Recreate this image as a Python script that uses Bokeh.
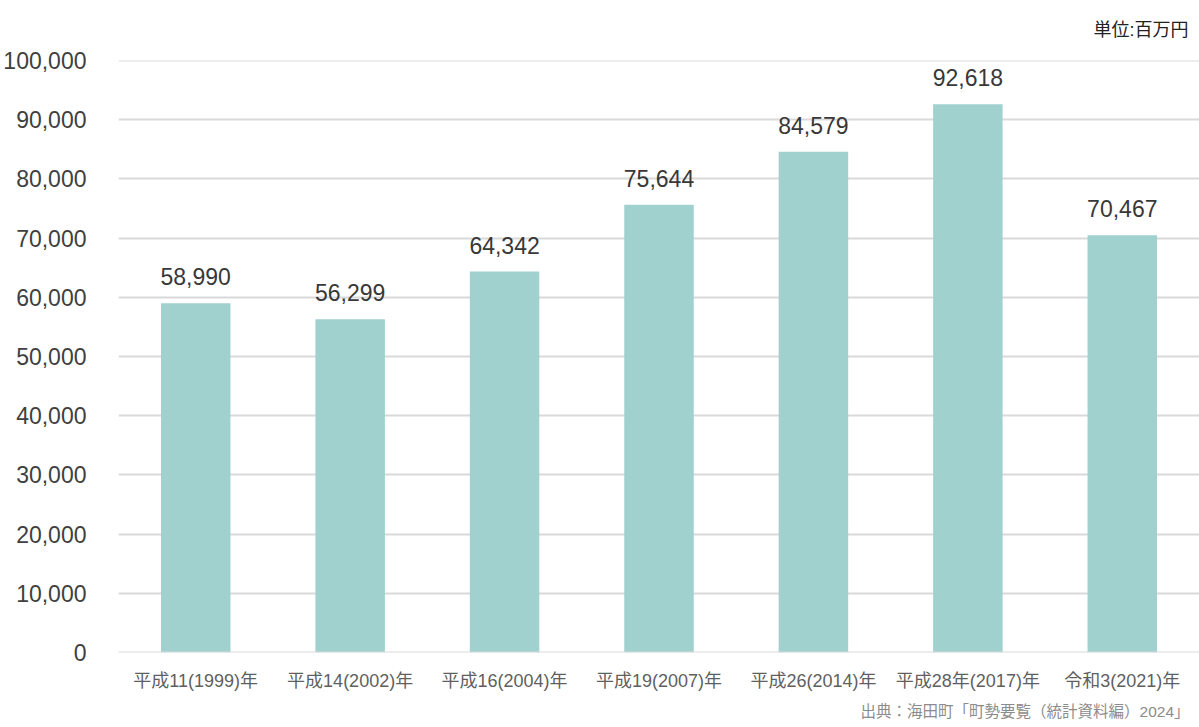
from bokeh.plotting import figure
from bokeh.models import ColumnDataSource, Range1d, FactorRange, NumeralTickFormatter, FixedTicker, Title, Span
from bokeh.core.properties import value
from bokeh.embed import file_html
from bokeh.resources import INLINE

categories = ["平成11(1999)年", "平成14(2002)年", "平成16(2004)年", "平成19(2007)年",
              "平成26(2014)年", "平成28年(2017)年", "令和3(2021)年"]
values = [58990, 56299, 64342, 75644, 84579, 92618, 70467]
labels = [f"{v:,}" for v in values]
unit_text = "単位:百万円"
source_text = "出典：海田町「町勢要覧（統計資料編）2024」"

FONT = "Liberation Sans, Arial, Noto Sans CJK JP, sans-serif"

src = ColumnDataSource(dict(cat=categories, val=values, lab=labels))

p = figure(width=1199, height=727, output_backend="svg", toolbar_location=None,
           x_range=FactorRange(*categories, range_padding=0), y_range=Range1d(0, 100000),
           min_border_left=118, min_border_right=0, min_border_top=60, min_border_bottom=75)
p.outline_line_color = None
p.background_fill_color = "white"
p.border_fill_color = "white"

for yv in (0, 100000):
    p.add_layout(Span(location=yv, dimension="width", line_color="#d9d9d9", line_width=2))

p.vbar(x="cat", top="val", width=0.45, source=src, fill_color="#a0d1cf", line_color=None)
p.text(x="cat", y="val", text="lab", source=src, text_align="center", text_baseline="bottom",
       y_offset=-18, text_font=value(FONT), text_font_size="23px", text_color="#383838")

p.yaxis.ticker = FixedTicker(ticks=list(range(0, 100001, 10000)))
p.yaxis.formatter = NumeralTickFormatter(format="0,0")
p.yaxis.major_label_text_font = FONT
p.yaxis.major_label_text_font_size = "23px"
p.yaxis.major_label_text_color = "#404040"
p.yaxis.major_label_standoff = 26
p.yaxis.axis_line_color = None
p.yaxis.major_tick_line_color = None
p.yaxis.minor_tick_line_color = None

p.xaxis.major_label_text_font = FONT
p.xaxis.major_label_text_font_size = "18px"
p.xaxis.major_label_text_color = "#5f5f5f"
p.xaxis.major_label_standoff = 12
p.xaxis.axis_line_color = None
p.xaxis.major_tick_line_color = None
p.xaxis.minor_tick_line_color = None

p.xgrid.grid_line_color = None
p.ygrid.grid_line_color = "#d9d9d9"
p.ygrid.grid_line_width = 2

p.add_layout(Title(text=unit_text, align="right", offset=11, standoff=38,
                   vertical_align="top",
                   text_font=FONT, text_font_size="18px", text_color="#222222",
                   text_font_style="normal"), "above")
p.add_layout(Title(text=source_text, align="right", offset=10, standoff=15,
                   text_font=FONT, text_font_size="15.5px", text_color="#8c8c8c",
                   text_font_style="normal"), "below")

open("out.html", "w").write(file_html(p, INLINE))
